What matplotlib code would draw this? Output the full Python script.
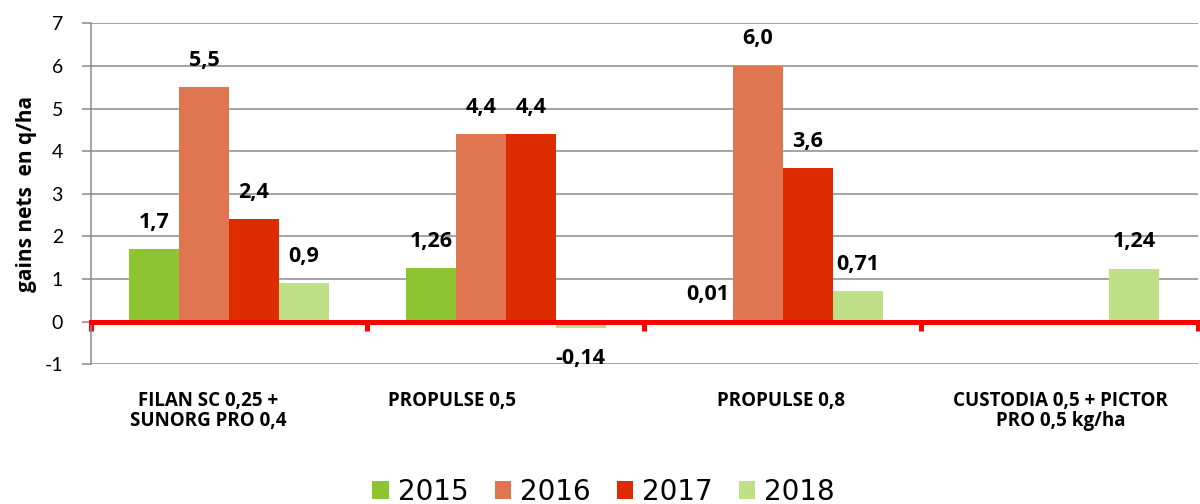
import matplotlib
matplotlib.use("Agg")
import matplotlib.pyplot as plt
from matplotlib.patches import Patch
import numpy as np

categories = ["FILAN SC 0,25 +\nSUNORG PRO 0,4", "PROPULSE 0,5", "PROPULSE 0,8",
              "CUSTODIA 0,5 + PICTOR\nPRO 0,5 kg/ha"]
years = ["2015", "2016", "2017", "2018"]
v2015 = [1.7, 1.26, 0.01, None]
v2016 = [5.5, 4.4, 6.0, None]
v2017 = [2.4, 4.4, 3.6, None]
v2018 = [0.9, -0.14, 0.71, 1.24]
series = [v2015, v2016, v2017, v2018]
colors = ["#8DC431", "#E07552", "#DD2C00", "#BFE086"]
yticks = [-1, 0, 1, 2, 3, 4, 5, 6, 7]

# horizontal shift (px) of the category labels, as Excel placed them
cat_dx_px = [-21, -54, -2, 1]

FONT = "Lato"
BFONT = "Open Sans"
DPI = 100
fig = plt.figure(figsize=(12, 5.04), dpi=DPI)
ax = fig.add_axes([90.7 / 1200, 1 - 364.3 / 504, (1197.7 - 90.7) / 1200, (364.3 - 23.3) / 504])

x = np.arange(len(categories))
w = 0.1807


def fmt(v):
    s = f"{v:.1f}" if abs(round(v, 1) - v) < 1e-9 else f"{v:.2f}"
    return s.replace(".", ",")


for k, (vals, col) in enumerate(zip(series, colors)):
    xs = [xi + (k - 1.5) * w for xi, v in zip(x, vals) if v is not None]
    vs = [v for v in vals if v is not None]
    ax.bar(xs, vs, width=w, color=col, edgecolor="none", zorder=2)
    for xi, v in zip(xs, vs):
        off = 19.4 if v >= 0 else -22.3
        ax.annotate(fmt(v), xy=(xi, v), xytext=(0, off), textcoords="offset points",
                    ha="center", va="center", fontsize=15.5, fontweight="bold",
                    family=BFONT, color="black", zorder=4)

ax.set_xlim(-0.5, 3.5)
ax.set_ylim(-1, 7)
ax.set_yticks(yticks)
ax.set_yticklabels([str(t) for t in yticks], family=FONT, fontsize=14)
ax.yaxis.grid(True, color="#8C8C8C", linewidth=1.1, zorder=0)
ax.set_axisbelow(True)

for s in ["top", "right"]:
    ax.spines[s].set_visible(False)
ax.spines["left"].set_color("#8C8C8C")
ax.spines["left"].set_linewidth(1.1)
ax.tick_params(axis="y", direction="out", length=6.5, width=1.1, color="#8C8C8C", pad=13.5)

ax.spines["bottom"].set_position(("data", 0))
ax.spines["bottom"].set_color("#FF0000")
ax.spines["bottom"].set_linewidth(3.6)
ax.spines["bottom"].set_zorder(3)
ax.set_xticks(np.arange(-0.5, 4.0, 1.0))
ax.set_xticklabels([])
ax.tick_params(axis="x", direction="out", length=6.5, width=3.6, color="#FF0000")

for xi, lab, dx in zip(x, categories, cat_dx_px):
    ax.annotate(lab, xy=(xi, -1), xytext=(dx * 72 / DPI, -19), textcoords="offset points",
                ha="center", va="top", fontsize=13.5, fontweight="bold", family=BFONT,
                linespacing=1.0, annotation_clip=False)

fig.text(27 / 1200, 1 - 194 / 504, "gains nets  en q/ha", rotation=90, ha="center",
         va="center", fontsize=15, fontweight="bold", family=BFONT)

handles = [Patch(facecolor=c, edgecolor="none") for c in colors]
fig.legend(handles, years, loc="center", bbox_to_anchor=(0.503, 1 - 492 / 504), ncol=4,
           frameon=False, prop={"family": "DejaVu Sans", "size": 20},
           handlelength=0.6, handleheight=0.6, handletextpad=0.32, columnspacing=0.93,
           borderpad=0, borderaxespad=0)

fig.savefig("out.png", dpi=DPI)
